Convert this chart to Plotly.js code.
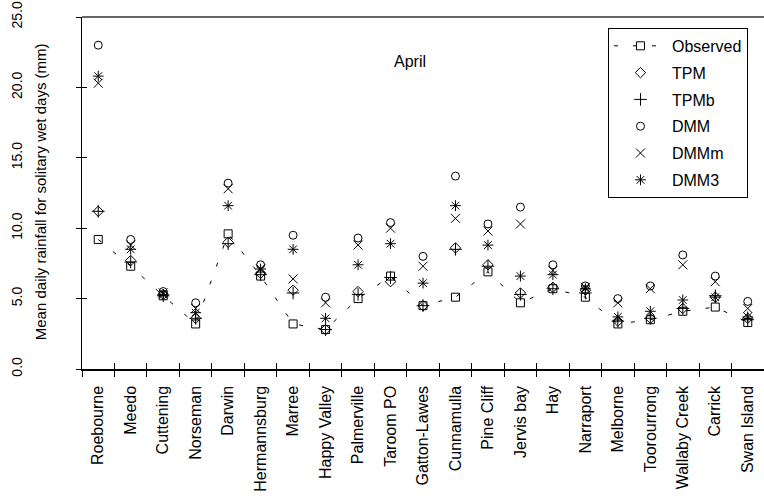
<!DOCTYPE html>
<html>
<head>
<meta charset="utf-8">
<script src="https://cdn.plot.ly/plotly-3.0.1.min.js"></script>
<style>
  html, body { margin: 0; padding: 0; background: #fff; overflow: hidden; }
  #chart { width: 764px; height: 499px; }
</style>
</head>
<body>
<div id="chart"></div>
<script>
// Stations along the x axis
const stations = ["Roebourne", "Meedo", "Cuttening", "Norseman", "Darwin", "Hermannsburg",
  "Marree", "Happy Valley", "Palmerville", "Taroom PO", "Gatton-Lawes", "Cunnamulla",
  "Pine Cliff", "Jervis bay", "Hay", "Narraport", "Melborne", "Toorourrong",
  "Wallaby Creek", "Carrick", "Swan Island"];

// Mean daily rainfall for solitary wet days (mm), April
const observed = [9.2, 7.3, 5.2, 3.2, 9.6, 6.6, 3.2, 2.8, 5.0, 6.6, 4.5, 5.1, 6.9, 4.7, 5.7, 5.1, 3.2, 3.5, 4.1, 4.4, 3.3];
const tpm      = [11.2, 7.7, 5.3, 3.6, 9.0, 6.8, 5.6, 2.8, 5.5, 6.2, 4.5, 8.6, 7.4, 5.4, 5.8, 5.6, 3.4, 3.6, 4.3, 5.1, 3.6];
const tpmb     = [11.2, 7.6, 5.2, 3.6, 8.9, 6.7, 5.4, 2.8, 5.3, 6.5, 4.5, 8.5, 7.3, 5.3, 5.7, 5.4, 3.4, 3.6, 4.3, 5.2, 3.5];
const dmm      = [23.0, 9.2, 5.5, 4.7, 13.2, 7.4, 9.5, 5.1, 9.3, 10.4, 8.0, 13.7, 10.3, 11.5, 7.4, 5.9, 5.0, 5.9, 8.1, 6.6, 4.8];
const dmmm     = [20.3, 8.8, 5.4, 4.3, 12.8, 7.1, 6.4, 4.7, 8.8, 10.0, 7.3, 10.7, 9.8, 10.3, 7.0, 5.8, 4.7, 5.7, 7.4, 6.2, 4.3];
const dmm3     = [20.8, 8.5, 5.3, 4.0, 11.6, 7.1, 8.5, 3.6, 7.4, 8.9, 6.1, 11.6, 8.8, 6.6, 6.7, 5.7, 3.7, 4.1, 4.9, 5.1, 3.7];

const yTicks = [0, 5, 10, 15, 20, 25];
const yTitle = "Mean daily rainfall for solitary wet days (mm)";

const FONT = "Arial, 'Liberation Sans', sans-serif";
const INK = "#000";

function pts(name, values, symbol, size, group) {
  return {
    type: "scatter", mode: "markers", name: name, x: stations, y: values,
    legendgroup: group,
    marker: { symbol: symbol, size: size, color: INK, line: { color: INK, width: 1 } },
    cliponaxis: false
  };
}

const traces = [
  {
    type: "scatter", mode: "lines+markers", name: "Observed", x: stations, y: observed,
    legendgroup: "g1",
    line: { color: INK, width: 1, dash: "4px,15px" },
    marker: { symbol: "square-open", size: 8, color: INK, line: { color: INK, width: 1 } },
    cliponaxis: false
  },
  pts("TPM", tpm, "diamond-open", 8, "g2"),
  pts("TPMb", tpmb, "cross-thin-open", 9, "g3"),
  pts("DMM", dmm, "circle-open", 8, "g4"),
  pts("DMMm", dmmm, "x-thin-open", 9, "g5"),
  pts("DMM3", dmm3, "asterisk-open", 9, "g6"),
  // draws nothing itself; puts the x2/y2 overlay axes (inner tick halves) on the page
  { type: "scatter", mode: "none", x: stations, y: observed, xaxis: "x2", yaxis: "y2",
    showlegend: false, hoverinfo: "skip" }
];

const layout = {
  width: 764, height: 499,
  margin: { l: 82, r: 0, t: 17, b: 130 },
  paper_bgcolor: "#fff", plot_bgcolor: "#fff",
  font: { family: FONT, color: INK, size: 14 },
  showlegend: true,
  title: {
    text: "April", font: { family: FONT, size: 16, color: INK },
    xref: "paper", x: 0.481, xanchor: "center",
    yref: "container", y: 0.876, yanchor: "middle"
  },
  xaxis: {
    type: "category", categoryorder: "array", categoryarray: stations,
    range: [-0.5, 20.5],
    showline: true, linecolor: INK, linewidth: 1.5,
    showgrid: false, zeroline: false,
    tickson: "boundaries", ticks: "outside", ticklen: 6, tickwidth: 1, tickcolor: INK,
    tickangle: -90, tickfont: { family: FONT, size: 16, color: INK },
    ticklabelstandoff: 9
  },
  yaxis: {
    range: [0, 25], tickvals: yTicks, tickformat: ".1f",
    showline: true, linecolor: INK, linewidth: 1.5,
    showgrid: false, zeroline: false,
    ticks: "outside", ticklen: 5, tickwidth: 1, tickcolor: INK,
    tickangle: -90, tickfont: { family: FONT, size: 14, color: INK },
    ticklabelstandoff: 48
  },
  xaxis2: {
    type: "category", categoryorder: "array", categoryarray: stations,
    overlaying: "x", anchor: "y2", side: "bottom",
    range: [-0.5, 20.5],
    tickson: "boundaries", ticks: "inside", ticklen: 6, tickwidth: 1, tickcolor: INK,
    showticklabels: false, showgrid: false, zeroline: false, showline: false
  },
  yaxis2: {
    overlaying: "y", anchor: "x2", side: "left",
    range: [0, 25], tickvals: yTicks,
    ticks: "inside", ticklen: 5, tickwidth: 1, tickcolor: INK,
    showticklabels: false, showgrid: false, zeroline: false, showline: false
  },
  shapes: [{
    // top frame line of the plot area
    type: "line", xref: "paper", yref: "paper", x0: 0, x1: 1, y0: 1, y1: 1,
    line: { color: "#333", width: 1.5 }
  }],
  annotations: [{
    text: yTitle, textangle: -90, showarrow: false,
    xref: "paper", yref: "paper", x: -0.0616, y: 0.505, xanchor: "center", yanchor: "middle",
    font: { family: FONT, size: 15, color: INK }
  }],
  legend: {
    x: 0.9765, xanchor: "right", y: 0.969, yanchor: "top",
    bgcolor: "#fff", bordercolor: INK, borderwidth: 1,
    font: { family: FONT, size: 16, color: INK },
    traceorder: "grouped", tracegroupgap: 3,
    itemwidth: 53
  }
};

Plotly.newPlot("chart", traces, layout, { displayModeBar: false, staticPlot: true });
</script>
</body>
</html>
